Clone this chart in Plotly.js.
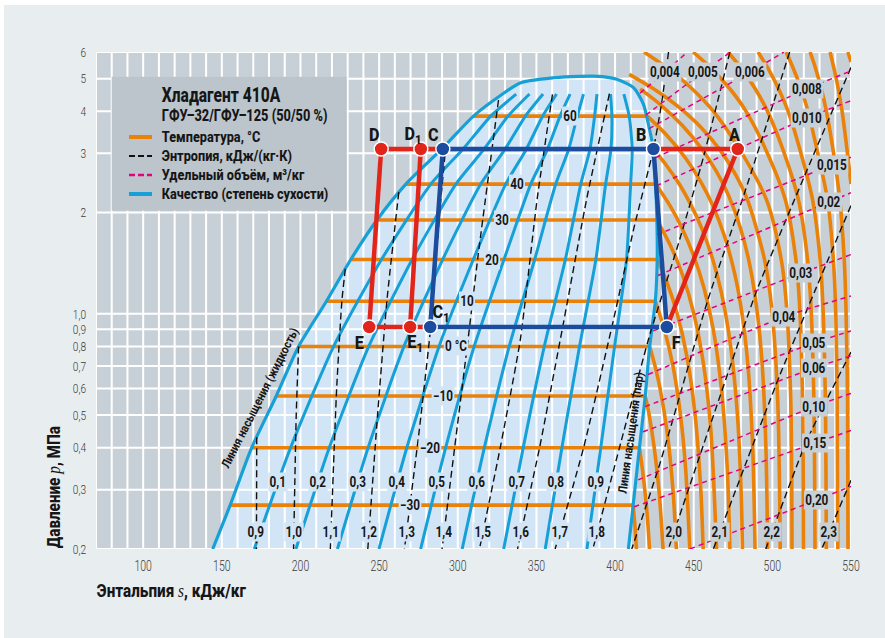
<!DOCTYPE html>
<html>
<head>
<meta charset="utf-8">
<script src="https://cdn.plot.ly/plotly-3.0.1.min.js"></script>
<style>
  html, body { margin: 0; padding: 0; background: #ffffff; }
  #chart { width: 885px; height: 638px; }
</style>
</head>
<body>
<div id="chart"></div>
<script>
// ---------- Saturation dome (h in kJ/kg, p in MPa) ----------
const satLiqP = [0.2, 0.27, 0.4, 0.57, 0.8, 1.09, 1.45, 1.9, 2.43, 3.08, 3.87, 4.5, 4.86, 5.03, 5.08];
const satLiqH = [144.2, 155.3, 169, 184.6, 198.8, 216.5, 232, 248.6, 267, 289.6, 310, 328.5, 340, 361, 377];
const satVapP = [5.08, 4.98, 4.70, 4.2, 3.66, 3.08, 2.43, 1.9, 1.45, 1.09, 0.8, 0.57, 0.4, 0.27, 0.2];
const satVapH = [390, 401.1, 411.7, 418, 421.2, 424.4, 425.8, 426.6, 426.8, 425.6, 422, 419.2, 415.5, 411.5, 408.5];

// ---------- Quality (dryness fraction) lines ----------
const qualityLabels = ['0,1', '0,2', '0,3', '0,4', '0,5', '0,6', '0,7', '0,8', '0,9'];
const qualityP = [0.2, 0.4, 0.8, 1.45, 2.43, 3.08, 3.87, 4.5];
const qualityH = [
  [170.6, 193.7, 221.1, 251.5, 282.9, 303.1, 321, 337.1],
  [197.1, 218.3, 243.4, 271, 298.8, 316.6, 332, 345.6],
  [223.5, 243, 265.8, 290.4, 314.6, 330.0, 343, 354.2],
  [249.9, 267.6, 288.1, 309.9, 330.5, 343.5, 354, 362.8],
  [276.4, 292.3, 310.4, 329.4, 346.4, 357, 365, 371.4],
  [302.8, 316.9, 332.7, 348.9, 362.3, 370.5, 376, 379.9],
  [329.2, 341.6, 355, 368.4, 378.2, 384, 387, 388.5],
  [355.6, 366.2, 377.4, 387.8, 394, 397.4, 398, 397.1],
  [382.1, 390.9, 399.7, 407.3, 409.9, 410.9, 409, 405.6]
];

// ---------- Isotherms, °C ----------
// two-phase (horizontal) part
const domeIsoT = [-30, -20, -10, 0, 10, 20, 30, 40, 50, 60];
const domeIsoP = [0.27, 0.40, 0.57, 0.80, 1.09, 1.45, 1.90, 2.43, 3.08, 3.87];
const domeIsoLiqH = [155.3, 169, 184.6, 198.8, 216.5, 232, 248.6, 267, 289.6, 310];
const domeIsoVapH = [411.5, 415.5, 419.2, 422, 425.6, 426.8, 426.6, 425.8, 424.4, 420.5];
const isoLabelText = ['60', '40', '30', '20', '10', '0 °C', '−10', '−20', '−30'];
const isoLabelP = [3.87, 2.43, 1.90, 1.45, 1.09, 0.80, 0.57, 0.40, 0.27];
// superheated-vapour part
const arcT = [-30, -20, -10, 0, 10, 20, 30, 40, 50, 60, 70, 80, 90, 100, 110, 120, 130, 140, 150, 160];
const arcP = [
  [0.27, 0.235, 0.2],
  [0.40, 0.35, 0.30, 0.25, 0.2],
  [0.57, 0.5, 0.4, 0.3, 0.2],
  [0.8, 0.7, 0.6, 0.45, 0.3, 0.2],
  [1.09, 0.9, 0.7, 0.5, 0.35, 0.2],
  [1.45, 1.25, 1.0, 0.75, 0.5, 0.3, 0.2],
  [1.9, 1.6, 1.3, 1.0, 0.7, 0.45, 0.2],
  [2.43, 2.1, 1.8, 1.5, 1.2, 0.9, 0.6, 0.35, 0.2],
  [3.08, 2.76, 2.41, 2.1, 1.8, 1.44, 1.15, 0.8, 0.5, 0.3, 0.2],
  [3.87, 3.39, 2.89, 2.46, 2.1, 1.7, 1.3, 1.0, 0.7, 0.4, 0.2],
  [4.66, 4.16, 3.63, 3.09, 2.64, 2.25, 1.8, 1.4, 1.0, 0.7, 0.4, 0.2],
  [5.15, 4.69, 4.32, 4.01, 3.59, 3.07, 2.59, 2.18, 1.445, 1.04, 0.554, 0.2],
  [6, 5.38, 4.69, 4.01, 3.07, 2.18, 1.445, 1.04, 0.554, 0.2],
  [6, 5.38, 4.69, 4.01, 3.07, 2.18, 1.445, 1.04, 0.554, 0.2],
  [6, 5.38, 4.69, 4.01, 3.07, 2.18, 1.445, 1.04, 0.554, 0.2],
  [6, 5.38, 4.69, 4.01, 3.07, 2.18, 1.445, 1.04, 0.554, 0.2],
  [6, 5.38, 4.69, 4.01, 3.07, 2.18, 1.445, 1.04, 0.554, 0.2],
  [6, 5.38, 4.69, 4.01, 3.07, 2.18, 1.445, 1.04, 0.554, 0.2],
  [6, 5.38, 4.69, 4.01, 3.07, 2.43],
  [6, 5.6]
];
const arcH = [
  [411.5, 412.6, 413.6],
  [415.5, 417.2, 418.9, 420.5, 421.9],
  [419.2, 421.7, 424.9, 427.9, 430.5],
  [422, 425.4, 428.6, 433, 436.8, 439],
  [425.6, 431.3, 436.8, 441.6, 444.8, 447.5],
  [426.8, 432.7, 439.5, 445.6, 450.9, 454.5, 456],
  [426.6, 435.1, 443, 450.1, 456.4, 460.9, 464.5],
  [425.8, 434.8, 442.5, 449.7, 456.4, 462.4, 467.6, 471.3, 473],
  [424.4, 432.7, 441.3, 448.4, 455, 462.3, 467.7, 473.5, 477.8, 480.1, 481],
  [420.5, 433, 445.1, 454.7, 462.1, 469.6, 476.3, 480.7, 484.5, 487.5, 489],
  [416, 429.5, 442.8, 455.2, 464.6, 472.1, 479.7, 485.6, 490.5, 493.6, 495.9, 497],
  [409, 423.7, 434.7, 443.4, 454.4, 466.7, 476.7, 484.2, 495.1, 499.6, 503.4, 505],
  [418.4, 433.1, 448.4, 462.3, 479.4, 496.3, 505.7, 509.1, 511.7, 512.5],
  [449.6, 460.9, 472.6, 483.1, 495.9, 508.3, 515, 517.4, 519.2, 519.8],
  [471.8, 480.1, 488.8, 496.8, 506.8, 516.6, 522.4, 524.6, 526.4, 527.1],
  [490.9, 497.1, 503.7, 509.9, 517.6, 525.6, 530.4, 532.2, 533.7, 534.3],
  [508.7, 513.2, 518.1, 522.6, 528.4, 535.1, 538.8, 540.2, 541.2, 541.6],
  [524, 527.4, 531, 534.3, 538.6, 542.9, 545.7, 546.8, 547.8, 548.1],
  [536.7, 539.1, 541.8, 544.3, 547.5, 550],
  [548, 550]
];

// ---------- Isentropes, kJ/(kg·K) ----------
const entLabels = ['0,9', '1,0', '1,1', '1,2', '1,3', '1,4', '1,5', '1,6', '1,7', '1,8', '', '2,0', '2,1', '2,2', '2,3'];
const entP = [
  [0.43, 0.2],
  [0.8, 0.5, 0.2],
  [1.36, 1.09, 0.6, 0.2],
  [2.3, 1.1, 0.5, 0.2],
  [3.2, 2.0, 0.914, 0.45, 0.2],
  [4.32, 1.5, 0.8, 0.4, 0.2],
  [4.49, 2.2, 0.834, 0.4, 0.2],
  [4.51, 2.2, 0.94, 0.4, 0.2],
  [6, 4.2, 3.09, 1.8, 0.956, 0.4, 0.2],
  [6, 2.9, 1.6, 0.874, 0.42, 0.2],
  [6, 2.3, 1.1, 0.36, 0.2],
  [5.4, 2.54, 1.17, 0.46, 0.2],
  [2.1, 0.66, 0.2],
  [0.77, 0.42, 0.2],
  [0.32, 0.2]
];
const entH = [
  [172.2, 172.0],
  [198.8, 197.3, 195.6],
  [228.5, 226.3, 223, 219],
  [262.5, 255, 249, 242.8],
  [292.5, 288.5, 282.8, 275.5, 266.1],
  [325.9, 313, 306, 298, 290],
  [360.2, 350.5, 339.7, 327, 313.8],
  [396.4, 382, 367.2, 352, 338],
  [434, 429.5, 424.4, 412, 398.9, 380, 361.9],
  [473, 456, 440, 422.3, 404, 385.9],
  [511, 482.5, 459, 428.6, 410.6],
  [550, 520, 490, 460, 433.9],
  [550, 504.9, 462.5],
  [550, 521.9, 495.8],
  [550, 531.4]
];

// ---------- Specific volume lines, m³/kg ----------
const volLabels = ['0,004', '0,005', '0,006', '0,008', '0,010', '0,015', '0,02', '0,03', '0,04', '0,05', '0,06', '0,10', '0,15', '0,20'];
const volH = [
  [415.9, 431.7, 446], [419.7, 455.9, 473.5], [421.6, 485.8, 507.4],
  [425.5, 522, 550], [426.1, 522, 550], [426.7, 538, 550], [427.3, 536, 550],
  [424.2, 518.2, 550], [421, 507.4, 550], [419.1, 526.5, 550], [417.8, 526.5, 550],
  [414.7, 526.5, 550], [412.2, 527.1, 550], [447.6, 528.4, 550]
];
const volP = [
  [4.53, 5.23, 6.0], [3.90, 5.23, 6.0], [3.55, 5.23, 6.0],
  [2.91, 4.66, 5.27], [2.40, 3.82, 4.3], [1.72, 2.77, 2.92], [1.30, 2.15, 2.29],
  [0.89, 1.32, 1.50], [0.66, 0.98, 1.13], [0.53, 0.82, 0.89], [0.446, 0.69, 0.75],
  [0.321, 0.53, 0.58], [0.267, 0.413, 0.45], [0.2, 0.28, 0.307]
];

// ---------- Refrigeration cycle states ----------
const cycleNames = ['A', 'B', 'C', 'D', 'D1', 'E', 'E1', 'C1', 'F'];
const cycleH = [478, 424.4, 290.5, 251.3, 276.5, 243.7, 269.7, 282.5, 432.9];
const cycleP = [3.09, 3.09, 3.09, 3.09, 3.09, 0.914, 0.914, 0.914, 0.914];

// ---------- Axis ticks ----------
const xTickVals = [100, 150, 200, 250, 300, 350, 400, 450, 500, 550];
const yTickVals = [6, 5, 4, 3, 2, 1, 0.9, 0.8, 0.7, 0.6, 0.5, 0.4, 0.3, 0.2];
const yTickText = ['6', '5', '4', '3', '2', '1,0', '0,9', '0,8', '0,7', '0,6', '0,5', '0,4', '0,3', '0,2'];

// ================== drawing ==================
const FONT = 'Roboto, Noto Sans, sans-serif';
const SERIF = 'Liberation Serif, DejaVu Serif, serif';
const C_ORANGE = '#ea8109', C_BLUE = '#17a0d7', C_MAG = '#e5007d';
const C_RED = '#e1251b', C_NAVY = '#1b4c9e';
const C_DOME = '#d1e5f6', C_PLOT = '#c8d0d7', C_TEXT = '#161616';

const W = 885, H = 638, ML = 96, MR = 34, MT = 52, MB = 89;
const PW = W - ML - MR, PH = H - MT - MB;
function paper(px, py) { return { x: (px - ML) / PW, y: 1 - (py - MT) / PH }; }

// h on a polyline at pressure p (interpolated in log p)
function hAt(P, Hs, p) {
  for (let i = 0; i < P.length - 1; i++) {
    const a = P[i], b = P[i + 1];
    if ((p - a) * (p - b) <= 0) {
      const t = (Math.log(p) - Math.log(a)) / (Math.log(b) - Math.log(a));
      return Hs[i] + t * (Hs[i + 1] - Hs[i]);
    }
  }
  return Hs[Hs.length - 1];
}

const traces = [];

// dome fill
traces.push({
  x: satLiqH.concat(satVapH), y: satLiqP.concat(satVapP),
  mode: 'lines', fill: 'toself', fillcolor: C_DOME,
  line: { width: 0, shape: 'spline', smoothing: 0.7 }, hoverinfo: 'skip'
});

// grid drawn as a trace so it sits above the dome fill
const gx = [], gy = [];
for (let h = 70; h <= 550; h += 10) { gx.push(h, h, null); gy.push(0.2, 6, null); }
yTickVals.forEach(p => { gx.push(70, 550, null); gy.push(p, p, null); });
traces.push({ x: gx, y: gy, mode: 'lines', line: { color: '#ffffff', width: 2 }, hoverinfo: 'skip' });

// isotherms: horizontal two-phase segments
const hx = [], hy = [];
domeIsoT.forEach((t, i) => { hx.push(domeIsoLiqH[i], domeIsoVapH[i], null); hy.push(domeIsoP[i], domeIsoP[i], null); });
traces.push({ x: hx, y: hy, mode: 'lines', line: { color: C_ORANGE, width: 3.6 }, hoverinfo: 'skip' });
// isotherms: superheated arcs
arcT.forEach((t, i) => {
  traces.push({ x: arcH[i], y: arcP[i], mode: 'lines',
    line: { color: C_ORANGE, width: 3.6, shape: 'spline', smoothing: 0.8 }, hoverinfo: 'skip' });
});

// quality lines
qualityH.forEach(hs => {
  traces.push({ x: hs, y: qualityP, mode: 'lines',
    line: { color: C_BLUE, width: 3, shape: 'spline', smoothing: 0.6 }, hoverinfo: 'skip' });
});
// dome outline
traces.push({ x: satLiqH.concat(satVapH), y: satLiqP.concat(satVapP), mode: 'lines',
  line: { color: C_BLUE, width: 3.2, shape: 'spline', smoothing: 0.7 }, hoverinfo: 'skip' });

// isentropes
entH.forEach((hs, i) => {
  traces.push({ x: hs, y: entP[i], mode: 'lines',
    line: { color: '#111111', width: 1.4, dash: '7px,4px', shape: 'spline', smoothing: 0.5 }, hoverinfo: 'skip' });
});

// specific volume lines
volH.forEach((hs, i) => {
  traces.push({ x: hs, y: volP[i], mode: 'lines',
    line: { color: C_MAG, width: 1.5, dash: '5px,4px', shape: 'spline', smoothing: 0.5 }, hoverinfo: 'skip' });
});

// cycle
const idx = n => cycleNames.indexOf(n);
function path(names) { return { x: names.map(n => cycleH[idx(n)]), y: names.map(n => cycleP[idx(n)]) }; }
const blue = path(['C', 'B', 'F', 'C1', 'C']);
traces.push({ x: blue.x, y: blue.y, mode: 'lines', line: { color: C_NAVY, width: 4.5 }, hoverinfo: 'skip' });
[['D', 'D1', 'C'], ['D', 'E'], ['D1', 'E1'], ['E', 'E1', 'C1'], ['B', 'A', 'F']].forEach(seg => {
  const s = path(seg);
  traces.push({ x: s.x, y: s.y, mode: 'lines', line: { color: C_RED, width: 4.5 }, hoverinfo: 'skip' });
});
const redPts = path(['A', 'D', 'D1', 'E', 'E1']);
const bluePts = path(['B', 'C', 'C1', 'F']);
traces.push({ x: redPts.x, y: redPts.y, mode: 'markers',
  marker: { size: 14, color: C_RED, line: { color: '#ffffff', width: 1.5 } }, hoverinfo: 'skip' });
traces.push({ x: bluePts.x, y: bluePts.y, mode: 'markers',
  marker: { size: 14, color: C_NAVY, line: { color: '#ffffff', width: 1.5 } }, hoverinfo: 'skip' });

// ---------- annotations ----------
const ann = [], annScale = [];
function addAnn(a, scale) { ann.push(a); annScale.push(scale); }
function lineLabel(h, p, text, bg) {
  addAnn({ x: h, y: Math.log10(p), xref: 'x', yref: 'y', text: text, showarrow: false,
    font: { family: FONT, size: 14, color: C_TEXT, weight: 700 }, bgcolor: bg, borderpad: 1 }, 0.84);
}
function paperText(px, py, text, size, opts, scale, weight) {
  const q = paper(px, py);
  addAnn(Object.assign({ x: q.x, y: q.y, xref: 'paper', yref: 'paper', showarrow: false,
    xanchor: 'center', yanchor: 'middle', text: text,
    font: { family: FONT, size: size, color: C_TEXT, weight: weight || 700 } }, opts || {}), scale);
}

// isotherm labels in the dome
const isoLabelH = [371.4, 337.9, 328, 321.7, 305.8, 299.0, 290.6, 282.4, 269.7];
isoLabelText.forEach((t, i) => lineLabel(isoLabelH[i], isoLabelP[i], t, C_DOME));
// quality labels
qualityLabels.forEach((t, i) => lineLabel(hAt(qualityP, qualityH[i], 0.3163), 0.3163, t, C_DOME));
// isentrope labels
entLabels.forEach((t, i) => {
  if (!t) return;
  lineLabel(hAt(entP[i], entH[i], 0.2247), 0.2247, t, i <= 9 ? C_DOME : C_PLOT);
});
// specific volume labels
volLabels.forEach((t, i) => lineLabel(volH[i][1], volP[i][1], t, C_PLOT));

// cycle point labels
const cycleLabelText = { A: 'A', B: 'B', C: 'C', D: 'D', D1: 'D<sub>1</sub>', E: 'E', E1: 'E<sub>1</sub>', C1: 'C<sub>1</sub>', F: 'F' };
const cycleLabelShift = { A: [-3, 14], B: [-12, 14], C: [-10, 14], D: [-7, 14], D1: [-8, 14],
  E: [-10, -16], E1: [5, -16], C1: [11, 14], F: [10, -16] };
cycleNames.forEach((n, i) => {
  addAnn({ x: cycleH[i], y: Math.log10(cycleP[i]), xref: 'x', yref: 'y', showarrow: false,
    text: cycleLabelText[n], xshift: cycleLabelShift[n][0], yshift: cycleLabelShift[n][1],
    font: { family: FONT, size: 19, color: C_TEXT, weight: 800 } }, 0.85);
});

// saturation line captions
paperText(259, 398, 'Линия насыщения (жидкость)', 12.5, { textangle: -63 }, 0.86);
paperText(630, 433, 'Линия насыщения (пар)', 12.5, { textangle: -82 }, 0.86);

// axis titles
paperText(53, 487, 'Давление <span style="font-family:' + SERIF + ';font-style:italic;font-weight:400">p</span>, МПа',
  18, { textangle: -90 }, 0.85, 800);
paperText(95, 590, 'Энтальпия <span style="font-family:' + SERIF + ';font-style:italic;font-weight:400">s</span>, кДж/кг',
  18, { xanchor: 'left' }, 0.85, 800);

// legend block
const shapes = [];
let b0 = paper(111.7, 210.7), b1 = paper(346.7, 76.7);
shapes.push({ type: 'rect', xref: 'paper', yref: 'paper', x0: b0.x, y0: b0.y, x1: b1.x, y1: b1.y,
  fillcolor: '#bcc5cc', line: { width: 0 }, layer: 'above' });
paperText(160, 95, 'Хладагент 410A', 20, { xanchor: 'left' }, 0.78, 800);
paperText(160, 115, 'ГФУ–32/ГФУ–125 (50/50 %)', 16, { xanchor: 'left' }, 0.8, 800);
const legendItems = [
  ['Температура, °C', C_ORANGE, 'solid', 4, 137],
  ['Энтропия, кДж/(кг·К)', '#111111', '6px,3px', 2, 156],
  ['Удельный объём, м³/кг', C_MAG, '6px,3px', 2.5, 175],
  ['Качество (степень сухости)', C_BLUE, 'solid', 4, 194]
];
legendItems.forEach(it => {
  const a = paper(129, it[4]), c = paper(152, it[4]);
  shapes.push({ type: 'line', xref: 'paper', yref: 'paper', x0: a.x, y0: a.y, x1: c.x, y1: c.y,
    line: { color: it[1], width: it[3], dash: it[2] }, layer: 'above' });
  paperText(160, it[4], it[0], 15.5, { xanchor: 'left' }, 0.82, 800);
});

// white frame strips at the top and left of the panel
let s0 = paper(0, 5), s1 = paper(885, 0);
shapes.push({ type: 'rect', xref: 'paper', yref: 'paper', x0: s0.x, y0: s0.y, x1: s1.x, y1: s1.y,
  fillcolor: '#ffffff', line: { width: 0 }, layer: 'above' });
s0 = paper(0, 638); s1 = paper(4, 0);
shapes.push({ type: 'rect', xref: 'paper', yref: 'paper', x0: s0.x, y0: s0.y, x1: s1.x, y1: s1.y,
  fillcolor: '#ffffff', line: { width: 0 }, layer: 'above' });

const layout = {
  width: W, height: H,
  margin: { l: ML, r: MR, t: MT, b: MB, pad: 0, autoexpand: false },
  paper_bgcolor: '#e8edf0', plot_bgcolor: C_PLOT,
  showlegend: false,
  xaxis: {
    range: [70, 550], showgrid: false, zeroline: false, showline: false,
    tickmode: 'array', tickvals: xTickVals, ticktext: xTickVals.map(String),
    ticks: '', ticklabelstandoff: 6,
    tickfont: { family: FONT, size: 15, color: '#3a3a3a', weight: 300 }, fixedrange: true
  },
  yaxis: {
    type: 'log', range: [Math.log10(0.2), Math.log10(6)], showgrid: false, zeroline: false, showline: false,
    tickmode: 'array', tickvals: yTickVals, ticktext: yTickText,
    ticks: '', ticklabelstandoff: 9,
    tickfont: { family: FONT, size: 13.5, color: '#3a3a3a', weight: 300 }, fixedrange: true
  },
  annotations: ann,
  shapes: shapes
};

// narrow the lettering horizontally around its anchor (condensed face)
function condense(el, sx, anchor) {
  const bb = el.getBBox();
  if (!bb.width) return;
  const cx = anchor === 'left' ? bb.x : anchor === 'right' ? bb.x + bb.width : bb.x + bb.width / 2;
  const prev = el.getAttribute('transform') || '';
  el.setAttribute('transform', prev + ' translate(' + cx + ',0) scale(' + sx + ',1) translate(' + (-cx) + ',0)');
}

Plotly.newPlot('chart', traces, layout, { staticPlot: true, displayModeBar: false }).then(gd => {
  try {
    gd.querySelectorAll('g.annotation').forEach(g => {
      const i = +g.getAttribute('data-index');
      const sc = annScale[i];
      const txt = g.querySelector('text.annotation-text');
      if (!txt || !sc || sc === 1) return;
      const anchor = ann[i].xanchor === 'left' ? 'left' : 'center';
      condense(txt.parentNode, sc, anchor);
    });
    gd.querySelectorAll('.xtick text').forEach(t => condense(t, 0.7, 'center'));
    gd.querySelectorAll('.ytick text').forEach(t => condense(t, 0.75, 'right'));
  } catch (e) { /* keep the plain rendering */ }
});
</script>
</body>
</html>
